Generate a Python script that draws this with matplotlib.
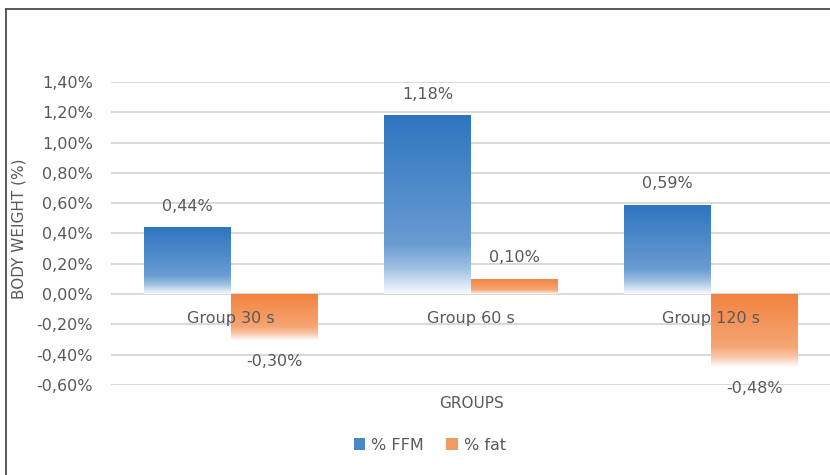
import numpy as np
import matplotlib
matplotlib.use("Agg")
import matplotlib.pyplot as plt
from matplotlib.colors import to_rgb
from matplotlib.patches import Patch
from matplotlib.lines import Line2D
from matplotlib.ticker import FixedLocator, FuncFormatter

# Data
groups = ["Group 30 s", "Group 60 s", "Group 120 s"]
series_names = ["% FFM", "% fat"]
ffm = [0.44, 1.18, 0.59]
fat = [-0.30, 0.10, -0.48]
y_ticks = [-0.6, -0.4, -0.2, 0.0, 0.2, 0.4, 0.6, 0.8, 1.0, 1.2, 1.4]

BLUE = "#2E75C0"
ORANGE = "#F2833F"
TEXT = "#595959"
GRID = "#d0d0d0"

plt.rcParams["font.family"] = ["DejaVu Sans"]

W, H = 830, 475
fig = plt.figure(figsize=(W / 100, H / 100), dpi=100)
left, right, top, bottom = 111, 831, 82, 385
ax = fig.add_axes([left / W, 1 - bottom / H, (right - left) / W, (bottom - top) / H])


def fmt_pct(v):
    return f"{v:.2f}%".replace(".", ",")


def gradient_image(color, n=256):
    # Colour at the top of the bar, fading towards white at the bottom
    t = np.linspace(0, 1, n)
    alpha = np.interp(t, [0.0, 0.72, 0.86, 1.0], [1.0, 0.72, 0.45, 0.03])
    rgb = np.array(to_rgb(color))
    img = alpha[:, None] * rgb[None, :] + (1 - alpha[:, None]) * 1.0
    return img[:, None, :]


x = np.arange(len(groups))
w = 0.3625
bars_ffm = ax.bar(x - w / 2, ffm, width=w, facecolor="none", edgecolor="none", zorder=1)
bars_fat = ax.bar(x + w / 2, fat, width=w, facecolor="none", edgecolor="none", zorder=1)

for bars, color in ((bars_ffm, BLUE), (bars_fat, ORANGE)):
    grad = gradient_image(color)
    for p in bars.patches:
        x0, y0 = p.get_x(), p.get_y()
        x1, y1 = x0 + p.get_width(), y0 + p.get_height()
        lo, hi = min(y0, y1), max(y0, y1)
        im = ax.imshow(grad, extent=[x0, x1, lo, hi], origin="upper",
                       aspect="auto", interpolation="bilinear", zorder=1)
        im.set_clip_path(p)

# Value labels
for bars, vals in ((bars_ffm, ffm), (bars_fat, fat)):
    for p, v in zip(bars.patches, vals):
        cx = p.get_x() + p.get_width() / 2
        off = 21 if v >= 0 else -22
        ax.annotate(fmt_pct(v), (cx, v), xytext=(0, off), textcoords="offset pixels",
                    ha="center", va="center", fontsize=11.5, color=TEXT, zorder=6)

ax.set_xlim(-0.5, len(groups) - 0.5)
ax.set_ylim(min(y_ticks), max(y_ticks))

# Axes styling
for s in ax.spines.values():
    s.set_visible(False)
ax.spines["bottom"].set_position(("data", 0))
ax.yaxis.set_major_locator(FixedLocator(y_ticks))
ax.yaxis.set_major_formatter(FuncFormatter(lambda v, _: fmt_pct(v)))
ax.yaxis.grid(True, color=GRID, linewidth=1.1)
ax.yaxis.set_zorder(0.5)
ax.xaxis.set_zorder(5)
ax.tick_params(axis="y", length=0, pad=13, labelsize=11.5, labelcolor=TEXT)
ax.set_xticks(x)
ax.set_xticklabels(groups)
ax.tick_params(axis="x", length=0, pad=12, labelsize=11.5, labelcolor=TEXT)

ax.set_ylabel("BODY WEIGHT (%)", fontsize=11, color=TEXT)
ax.yaxis.set_label_coords(-0.1167, 0.515)
ax.set_xlabel("GROUPS", fontsize=11, color=TEXT)
ax.xaxis.set_label_coords(0.5, -0.036)

handles = [Patch(facecolor="#4a86c8", edgecolor="none"),
           Patch(facecolor="#f39a63", edgecolor="none")]
fig.legend(handles, series_names, loc="center", bbox_to_anchor=(430 / W, 1 - 445 / H),
           ncol=2, frameon=False, fontsize=11.5, labelcolor=TEXT,
           handlelength=0.7, handleheight=0.7, handletextpad=0.4, columnspacing=1.4)

# Outer frame (left and top edges)
fx, fy = 6 / W, 1 - 9 / H
fig.add_artist(Line2D([fx, fx], [-0.01, fy], transform=fig.transFigure, color="#4d4d4d", lw=1.3))
fig.add_artist(Line2D([fx, 1.01], [fy, fy], transform=fig.transFigure, color="#4d4d4d", lw=1.3))

fig.savefig("out.png", dpi=100)
